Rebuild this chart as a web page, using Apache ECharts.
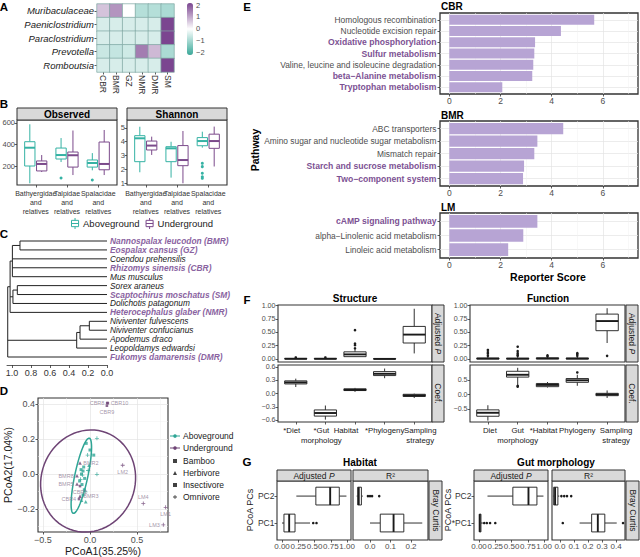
<!DOCTYPE html>
<html><head><meta charset="utf-8">
<script src="https://cdn.jsdelivr.net/npm/echarts@6.0.0/dist/echarts.min.js"></script>
<style>html,body{margin:0;padding:0;background:#fff;}#chart{width:640px;height:557px;}</style>
</head><body><div id="chart"></div>
<script>
// ================= DATA =================
// A: heatmap (z-scores)
const heatTaxa = ['Muribaculaceae', 'Paeniclostridium', 'Paraclostridium', 'Prevotella', 'Romboutsia'];
const heatHosts = ['CBR', 'BMR', 'GZ', 'NMR', 'DMR', 'SM'];
const heatZ = [
  [0.65, 1.15, 0.0, -0.75, -0.75, -0.85],
  [-0.41, -0.41, -0.41, -0.41, -0.41, 2.04],
  [-0.41, -0.41, -0.41, -0.41, -0.41, 2.04],
  [-0.55, -0.6, -0.5, 1.4, 0.75, -0.85],
  [-0.41, -0.41, -0.41, -0.41, -0.41, 2.04]
];
const colorbarTicks = [2, 1, 0, -1, -2];

// B: alpha diversity boxplots [min, q1, median, q3, max]
const bGroups = ['Bathyergidae\nand\nrelatives', 'Talpidae\nand\nrelatives', 'Spalacidae\nand\nrelatives'];
const observedAbove = [[39, 200, 370, 426, 588], [237, 265, 302, 367, 460], [160, 190, 228, 256, 320]];
const observedUnder = [[144, 154, 219, 247, 302], [116, 190, 300, 330, 530], [116, 165, 219, 423, 535]];
const observedAboveOut = [[2, 88], [3, 70]];
const shannonAbove = [[1.78, 2.55, 4.25, 4.44, 5.09], [1.39, 2.55, 3.52, 3.64, 4.0], [3.57, 3.71, 4.05, 4.3, 4.73]];
const shannonUnder = [[3.04, 3.4, 3.72, 4.05, 4.37], [0.98, 2.26, 2.67, 3.72, 4.78], [2.2, 3.52, 4.05, 4.55, 5.1]];
const shannonAboveOut = [[3, 2.43], [3, 2.19], [3, 1.71], [3, 1.46], [3, 1.34]];
const observedTicks = [200, 400, 600];
const shannonTicks = [1, 2, 3, 4, 5];

// C: dendrogram
const treeLeaves = ['Nannospalax leucodon (BMR)', 'Eospalax cansus (GZ)', 'Coendou prehensilis', 'Rhizomys sinensis (CBR)',
  'Mus musculus', 'Sorex araneus', 'Scaptochirus moschatus (SM)', 'Dolichotis patagonum', 'Heterocephalus glaber (NMR)',
  'Niviventer fulvescens', 'Niviventer confucianus', 'Apodemus draco', 'Leopoldamys edwardsi', 'Fukomys damarensis (DMR)'];
const treeFocal = [true, true, false, true, false, false, true, false, true, false, false, false, false, true];
const treeMerges = {h: 1.045, c: [
  {h: 1.02, c: [
    {h: 0.996, c: [{h: 0.916, c: [0, 1]}, 2, 3, 4]},
    {h: 0.99, c: [{h: 0.944, c: [5, 6]}, 7]},
    8]},
  {h: 0.319, c: [{h: 0.284, c: [{h: 0.186, c: [9, 10]}, 11]}, 12]},
  13]};
const treeTicks = [0, 0.2, 0.4, 0.6, 0.8, 1.0];

// D: PCoA
const underName = ['CBR8', 'CBR10', 'CBR9', 'LM2', 'LM4', 'LM1', 'LM3', 'BMR2', 'BMR8', 'BMR5', 'CBR5', 'BMR3', 'CBR4'];
const underX = [0.183, 0.19, 0.18, 0.348, 0.567, 0.805, 0.78, -0.106, -0.138, -0.138, -0.106, -0.106, -0.117];
const underY = [0.405, 0.405, 0.39, 0.05, -0.168, -0.19, -0.29, 0.063, -0.01, -0.057, -0.069, -0.126, -0.143];
const underDiet = ['Bamboo', 'Bamboo', 'Bamboo', 'Omnivore', 'Omnivore', 'Omnivore', 'Omnivore', 'Herbivore', 'Herbivore', 'Herbivore', 'Bamboo', 'Herbivore', 'Bamboo'];
const aboveX = [0.074, -0.04, 0.0, -0.025, 0.04, -0.01, 0.074, -0.067, -0.074, -0.081, -0.057, -0.09, -0.1, -0.085, -0.074, -0.09, -0.045, -0.06, -0.02, -0.095, -0.11, -0.05];
const aboveY = [0.204, 0.175, 0.137, 0.108, 0.108, 0.051, -0.002, 0.04, 0.017, -0.006, -0.025, 0.0, -0.03, -0.06, -0.12, -0.149, -0.158, -0.09, 0.02, 0.025, -0.04, -0.1];
const aboveDiet = ['Omnivore', 'Insectivore', 'Insectivore', 'Omnivore', 'Insectivore', 'Herbivore', 'Omnivore', 'Insectivore', 'Insectivore', 'Omnivore', 'Insectivore', 'Insectivore', 'Omnivore', 'Insectivore', 'Insectivore', 'Herbivore', 'Herbivore', 'Insectivore', 'Omnivore', 'Insectivore', 'Insectivore', 'Omnivore'];
const dietLevels = ['Bamboo', 'Herbivore', 'Insectivore', 'Omnivore'];
// ellipses: [centerX, centerY, axis1X, axis1Y, axis2X, axis2Y]
const ellipseAbove = [-0.092, -0.01, 0.085, 0.2145, 0.068, -0.008];
const ellipseUnder = [-0.02, -0.04, 0.505, 0.03, -0.02, 0.29];

// E: reporter scores
const cbrPathways = ['Homologous recombination', 'Nucleotide excision repair', 'Oxidative phosphorylation', 'Sulfur metabolism', 'Valine, leucine and isoleucine degradation', 'beta\u2212Alanine metabolism', 'Tryptophan metabolism'];
const cbrScores = [5.66, 4.36, 3.35, 3.32, 3.28, 3.24, 2.07];
const cbrHighlight = [0, 0, 1, 1, 0, 1, 1];
const bmrPathways = ['ABC transporters', 'Amino sugar and nucleotide sugar metabolism', 'Mismatch repair', 'Starch and sucrose metabolism', 'Two\u2212component system'];
const bmrScores = [4.45, 3.44, 3.32, 2.92, 2.88];
const bmrHighlight = [0, 0, 0, 1, 1];
const lmPathways = ['cAMP signaling pathway', 'alpha\u2212Linolenic acid metabolism', 'Linoleic acid metabolism'];
const lmScores = [3.44, 2.89, 2.3];
const lmHighlight = [1, 0, 0];
const reporterTicks = [0, 2, 4, 6];

// F: factor boxplots [min, q1, median, q3, max]
const structFactors = ['*Diet', '*Gut\nmorphology', 'Habitat', '*Phylogeny', 'Sampling\nstrategy'];
const funcFactors = ['Diet', 'Gut\nmorphology', '*Habitat', 'Phylogeny', 'Sampling\nstrategy'];
const structAdjP = [[0, 0.002, 0.005, 0.012, 0.02], [0, 0.002, 0.005, 0.012, 0.02], [0.04, 0.045, 0.087, 0.135, 0.18], [0, 0.001, 0.003, 0.008, 0.012], [0.105, 0.3, 0.457, 0.61, 0.94]];
const structAdjPOut = [[1, 0.03], [2, 0.03], [3, 0.2], [3, 0.26], [3, 0.29], [3, 0.54]];
const structCoef = [[0.15, 0.22, 0.255, 0.29, 0.34], [-0.59, -0.51, -0.44, -0.37, -0.27], [0.04, 0.07, 0.085, 0.11, 0.13], [0.35, 0.41, 0.45, 0.5, 0.57], [-0.1, -0.065, -0.04, -0.015, 0.0]];
const structCoefOut = [];
const funcAdjP = [[0, 0.004, 0.008, 0.018, 0.04], [0, 0.003, 0.007, 0.015, 0.035], [0, 0.005, 0.01, 0.022, 0.04], [0, 0.004, 0.008, 0.018, 0.04], [0.3, 0.53, 0.71, 0.84, 0.95]];
const funcAdjPOut = [[1, 0.06], [1, 0.1], [1, 0.13], [1, 0.17], [2, 0.06], [2, 0.08], [2, 0.11], [2, 0.15], [2, 0.23], [3, 0.05], [3, 0.07], [4, 0.06], [4, 0.09], [4, 0.11], [5, 0.06]];
const funcCoef = [[-0.9, -0.75, -0.63, -0.53, -0.37], [0.33, 0.6, 0.68, 0.8, 0.92], [0.24, 0.27, 0.33, 0.38, 0.43], [0.3, 0.42, 0.49, 0.55, 0.68], [-0.12, -0.04, 0, 0.04, 0.14]];
const funcCoefOut = [[2, 0.27], [2, 0.3], [4, 0.76]];
const adjPTicks = [0, 0.25, 0.5, 0.75, 1.0];
const structCoefTicks = [-0.6, -0.3, 0, 0.3, 0.6];
const funcCoefTicks = [-0.5, 0, 0.5];

// G: PC boxplots, rows: PC1, PC2
const habitatPCs = ['PC1', 'PC2'];
const gutPCs = ['*PC1', 'PC2'];
const habitatAdjP = [[0.0, 0.03, 0.11, 0.2, 0.43], [0.22, 0.52, 0.74, 0.88, 0.99]];
const habitatAdjPOut = [[1, 0.48], [1, 0.53]];
const habitatR2 = [[0.0, 0.05, 0.115, 0.165, 0.255], [-0.065, -0.06, -0.055, -0.042, -0.035]];
const habitatR2Out = [[2, -0.01], [2, 0.0], [2, 0.01], [2, 0.045]];
const gutAdjP = [[0.0, 0.005, 0.012, 0.03, 0.06], [0.13, 0.52, 0.76, 0.89, 0.99]];
const gutAdjPOut = [[1, 0.08], [1, 0.12], [1, 0.17], [1, 0.25]];
const gutR2 = [[0.14, 0.226, 0.27, 0.32, 0.405], [-0.05, -0.045, -0.035, -0.015, -0.005]];
const gutR2Out = [[1, 0.02], [1, 0.45], [2, 0.01], [2, 0.03], [2, 0.05], [2, 0.08]];
const habitatR2Ticks = [0, 0.1, 0.2];
const gutR2Ticks = [0, 0.1, 0.2, 0.3, 0.4];

// ================= STYLE / LAYOUT =================
const FONT = "'Liberation Sans', Arial, Helvetica, sans-serif";
const B_TEAL = '#35b2a4', B_PURP = '#7b4a8b';
const D_TEAL = '#2ea595', D_PURP = '#6e4475';
const HL_PURP = '#7c5193', TREE_PURP = '#8a63a1';
const BAR_FILL = '#b7a4d4';
const GRID_MAJOR = '#e4e4e4', GRID_MINOR = '#f0f0f0';
const STRIP_FILL = '#d9d9d9';
// horizontal nudges (px) of the F x-axis labels, as placed in the reference
const structLabelShift = [-4, -4, -9, 0, 6];
const funcLabelShift = [2, 0, -4, 0, 9];

const grids = [], xAxes = [], yAxes = [], series = [], graphics = [];

function fmtNum(v, d) {
  const s = Math.abs(v).toFixed(d);
  return (v < -1e-9 ? '\u2212' : '') + s;
}
function addGrid(left, top, width, height, border, bw) {
  grids.push({left: left, top: top, width: width, height: height, containLabel: false, outerBoundsMode: 'none',
    show: !!border, backgroundColor: 'rgba(0,0,0,0)', borderColor: '#333', borderWidth: border ? (bw || 1) : 0});
  return grids.length - 1;
}
function addAxis(list, o) {
  const lab = {show: o.label !== false, formatter: o.fmt, margin: o.margin == null ? 3 : o.margin,
    fontSize: o.fs || 7.5, color: o.color || '#4d4d4d', fontFamily: FONT, rotate: o.rotate || 0,
    fontStyle: o.italic ? 'italic' : 'normal', hideOverlap: false, interval: 0,
    showMinLabel: true, showMaxLabel: true};
  if (o.at) lab.customValues = o.at;
  if (o.lh) lab.lineHeight = o.lh;
  if (o.rich) lab.rich = o.rich;
  if (o.align) lab.align = o.align;
  if (o.valign) lab.verticalAlign = o.valign;
  const ax = {
    type: o.type || 'value', gridIndex: o.grid,
    inverse: !!o.inverse, offset: o.offset || 0,
    axisLine: {show: !!o.line, onZero: false, lineStyle: {color: '#333', width: 0.8}},
    axisTick: {show: o.tick !== false, length: o.tickLen || 2.5, alignWithLabel: true, interval: 0,
      lineStyle: {color: '#333', width: 0.8}},
    axisLabel: lab,
    splitLine: {show: !!o.split, lineStyle: {color: o.splitColor || GRID_MAJOR, width: o.splitWidth || 0.7}}
  };
  if (o.at) ax.axisTick.customValues = o.at;
  if (o.min != null) ax.min = o.min;
  if (o.max != null) ax.max = o.max;
  if (o.data) ax.data = o.data;
  if (o.position) ax.position = o.position;
  if (o.boundaryGap != null) ax.boundaryGap = o.boundaryGap;
  if (o.name) { ax.name = o.name; ax.nameLocation = 'middle'; ax.nameGap = o.nameGap; ax.nameTextStyle = o.nameStyle; }
  list.push(ax);
  return list.length - 1;
}
// extra (borderless) grid on top of a panel, carrying some of the x labels so crowded labels are all kept
function overlayXLabels(left, top, width, height, min, max, at, fmt, style) {
  const gi = addGrid(left, top, width, height);
  addAxis(xAxes, Object.assign({grid: gi, min: min, max: max, at: at, fmt: fmt}, style));
  addAxis(yAxes, {grid: gi, min: 0, max: 1, label: false, tick: false});
}
function boxSeries(xi, yi, rows, o) {
  series.push({
    type: 'custom', name: o.name, coordinateSystem: 'cartesian2d', xAxisIndex: xi, yAxisIndex: yi, silent: true, z: 3,
    data: rows,
    renderItem: function (params, api) {
      const c = api.value(0);
      const v = [api.value(1), api.value(2), api.value(3), api.value(4), api.value(5)];
      const hor = !!o.horizontal;
      const unit = hor ? Math.abs(api.size([0, 1])[1]) : Math.abs(api.size([1, 0])[0]);
      const w = unit * o.width, off = unit * (o.dodge || 0);
      const p = v.map(function (val) { return hor ? api.coord([val, c])[0] : api.coord([c, val])[1]; });
      const m = hor ? api.coord([v[2], c])[1] + off : api.coord([c, v[2]])[0] + off;
      const lw = o.lw || 0.9, stroke = o.color;
      function line(x1, y1, x2, y2, width) {
        return {type: 'line', shape: {x1: x1, y1: y1, x2: x2, y2: y2}, style: {stroke: stroke, lineWidth: width || lw}};
      }
      const ch = [];
      if (hor) {
        ch.push(line(p[0], m, p[1], m)); ch.push(line(p[3], m, p[4], m));
        ch.push({type: 'rect', shape: {x: Math.min(p[1], p[3]), y: m - w / 2, width: Math.abs(p[3] - p[1]), height: w},
          style: {fill: '#fff', stroke: stroke, lineWidth: lw}});
        ch.push(line(p[2], m - w / 2, p[2], m + w / 2, o.mlw || 1.8));
      } else {
        ch.push(line(m, p[0], m, p[1])); ch.push(line(m, p[3], m, p[4]));
        ch.push({type: 'rect', shape: {x: m - w / 2, y: Math.min(p[1], p[3]), width: w, height: Math.abs(p[3] - p[1])},
          style: {fill: '#fff', stroke: stroke, lineWidth: lw}});
        ch.push(line(m - w / 2, p[2], m + w / 2, p[2], o.mlw || 1.8));
      }
      return {type: 'group', children: ch};
    }
  });
}
function pointSeries(xi, yi, pts, o) {
  series.push({
    type: 'custom', coordinateSystem: 'cartesian2d', xAxisIndex: xi, yAxisIndex: yi, silent: true, z: 4, data: pts,
    renderItem: function (params, api) {
      const c = api.value(0), val = api.value(1);
      let pt;
      if (o.horizontal) { pt = api.coord([val, c]); }
      else { pt = api.coord([c, val]); pt[0] += Math.abs(api.size([1, 0])[0]) * (o.dodge || 0); }
      return {type: 'circle', shape: {cx: pt[0], cy: pt[1], r: o.r || 1.3}, style: {fill: o.color}};
    }
  });
}
function rows(summaries) { return summaries.map(function (s, i) { return [i + 1].concat(s); }); }
function txt(x, y, text, style, rot) {
  const el = {type: 'text', x: x, y: y, silent: true, z: 50,
    style: Object.assign({text: text, fontFamily: FONT, fill: '#000', align: 'center', verticalAlign: 'middle', fontSize: 10}, style)};
  if (rot) el.rotation = rot;
  graphics.push(el);
}
function box(x, y, w, h) {
  graphics.push({type: 'rect', silent: true, z: 40, shape: {x: x, y: y, width: w, height: h},
    style: {fill: STRIP_FILL, stroke: '#333', lineWidth: 1}});
}
const pRich = {a: {fontFamily: FONT, fontSize: 8.5, fill: '#1a1a1a'}, i: {fontFamily: FONT, fontSize: 8.5, fontStyle: 'italic', fill: '#1a1a1a'}};

// ---------- Panel A ----------
const gA = addGrid(97, 4, 77, 68);
const xA = addAxis(xAxes, {grid: gA, type: 'category', data: heatHosts, boundaryGap: true, rotate: -90, align: 'left', valign: 'middle',
  fs: 8.5, color: '#333', margin: 3});
const yA = addAxis(yAxes, {grid: gA, type: 'category', data: heatTaxa, boundaryGap: true, inverse: true, italic: true, align: 'right',
  fs: 9.5, color: '#1a1a1a', margin: 3});
const heatData = [];
heatZ.forEach(function (row, yi) { row.forEach(function (v, xi) { heatData.push([xi, yi, v]); }); });
series.push({type: 'heatmap', xAxisIndex: xA, yAxisIndex: yA, data: heatData, silent: true,
  itemStyle: {borderColor: '#7fa8a3', borderWidth: 0.7}, emphasis: {disabled: true}});
const heatSeriesIndex = series.length - 1;
const gAc = addGrid(187, 5, 6, 47);
addAxis(xAxes, {grid: gAc, min: 0, max: 1, label: false, tick: false});
addAxis(yAxes, {grid: gAc, position: 'right', min: -2, max: 2, at: colorbarTicks, fmt: function (v) { return fmtNum(v, 0); }, fs: 7.5, margin: 3, tick: false});

// ---------- Panel B ----------
const bLabelStyle = {lh: 9, fs: 7, color: '#333', margin: 4};
const bFmt = function (v) { return bGroups[v - 1]; };
const gBo = addGrid(17, 120, 100, 65, true, 1.1);
const xBo = addAxis(xAxes, Object.assign({grid: gBo, min: 0.4, max: 3.6, at: [1, 3], fmt: bFmt}, bLabelStyle));
const yBo = addAxis(yAxes, {grid: gBo, min: 23.3, max: 627.9, at: observedTicks, fs: 7.5, margin: 2});
overlayXLabels(17, 120, 100, 65, 0.4, 3.6, [2], bFmt, bLabelStyle);
const gBs = addGrid(127, 120, 100, 65, true, 1.1);
const xBs = addAxis(xAxes, Object.assign({grid: gBs, min: 0.4, max: 3.6, at: [1, 3], fmt: bFmt}, bLabelStyle));
const yBs = addAxis(yAxes, {grid: gBs, min: 0.855, max: 5.58, at: shannonTicks, fs: 7.5, margin: 2});
overlayXLabels(127, 120, 100, 65, 0.4, 3.6, [2], bFmt, bLabelStyle);
boxSeries(xBo, yBo, rows(observedAbove), {name: 'Aboveground', color: B_TEAL, width: 0.33, dodge: -0.19, lw: 1, mlw: 2});
boxSeries(xBo, yBo, rows(observedUnder), {name: 'Underground', color: B_PURP, width: 0.33, dodge: 0.19, lw: 1, mlw: 2});
pointSeries(xBo, yBo, observedAboveOut, {color: B_TEAL, dodge: -0.19, r: 1.5});
boxSeries(xBs, yBs, rows(shannonAbove), {name: 'Aboveground', color: B_TEAL, width: 0.33, dodge: -0.19, lw: 1, mlw: 2});
boxSeries(xBs, yBs, rows(shannonUnder), {name: 'Underground', color: B_PURP, width: 0.33, dodge: 0.19, lw: 1, mlw: 2});
pointSeries(xBs, yBs, shannonAboveOut, {color: B_TEAL, dodge: -0.19, r: 1.5});
box(17, 108, 100, 12); txt(67, 114.5, 'Observed', {fontWeight: 'bold', fontSize: 10});
box(127, 108, 100, 12); txt(177, 114.5, 'Shannon', {fontWeight: 'bold', fontSize: 10});

// ---------- Panel C ----------
const gC = addGrid(7, 241, 100, 116);
const xC = addAxis(xAxes, {grid: gC, min: 0, max: 1.0526, inverse: true, at: treeTicks, fmt: function (v) { return v.toFixed(1); },
  fs: 9, color: '#333', margin: 3, line: true, offset: 8, tickLen: 3});
const yC = addAxis(yAxes, {grid: gC, min: 0, max: 13, inverse: true, label: false, tick: false});
addAxis(yAxes, {grid: gC, type: 'category', data: treeLeaves, position: 'right', inverse: true, boundaryGap: false, tick: false, margin: 3,
  fmt: function (v, i) { return (treeFocal[i] ? '{f|' : '{n|') + v + '}'; },
  rich: {f: {color: TREE_PURP, fontWeight: 'bold', fontStyle: 'italic', fontSize: 8.4, fontFamily: FONT},
         n: {color: '#1a1a1a', fontStyle: 'italic', fontSize: 8.3, fontFamily: FONT}}});
const treeSegs = [];
(function layout(node) {
  if (typeof node === 'number') return {y: node, h: 0};
  const kids = node.c.map(layout);
  const ys = kids.map(function (k) { return k.y; });
  const lo = Math.min.apply(null, ys), hi = Math.max.apply(null, ys);
  kids.forEach(function (k) { treeSegs.push([k.h, k.y, node.h, k.y]); });
  treeSegs.push([node.h, lo, node.h, hi]);
  return {y: (lo + hi) / 2, h: node.h};
})(treeMerges);
series.push({type: 'custom', coordinateSystem: 'cartesian2d', xAxisIndex: xC, yAxisIndex: yC, silent: true, data: treeSegs,
  renderItem: function (params, api) {
    const a = api.coord([api.value(0), api.value(1)]), b = api.coord([api.value(2), api.value(3)]);
    return {type: 'line', shape: {x1: a[0], y1: a[1], x2: b[0], y2: b[1]}, style: {stroke: '#222', lineWidth: 1}};
  }});

// ---------- Panel D ----------
const gD = addGrid(38, 398, 130, 134, true, 1.1);
const dFmt = function (v) { return fmtNum(v, 1); };
const xD = addAxis(xAxes, {grid: gD, min: -0.553, max: 0.83, at: [-0.5, 0, 0.5], fmt: dFmt, fs: 9, margin: 3, split: true,
  name: 'PCoA1(35.25%)', nameGap: 13, nameStyle: {fontSize: 10.5, color: '#1a1a1a', fontFamily: FONT}});
addAxis(xAxes, {grid: gD, position: 'top', min: -0.553, max: 0.83, at: [-0.25, 0.25, 0.75], label: false, tick: false, split: true, splitColor: GRID_MINOR, splitWidth: 0.5});
const yD = addAxis(yAxes, {grid: gD, min: -0.331, max: 0.434, at: [-0.2, 0, 0.2, 0.4], fmt: dFmt, fs: 9, margin: 3, split: true,
  name: 'PCoA2(17.04%)', nameGap: 21, nameStyle: {fontSize: 10.5, color: '#1a1a1a', fontFamily: FONT}});
addAxis(yAxes, {grid: gD, position: 'right', min: -0.331, max: 0.434, at: [-0.3, -0.1, 0.1, 0.3], label: false, tick: false, split: true, splitColor: GRID_MINOR, splitWidth: 0.5});
function ellipseSeries(name, e, color) {
  series.push({type: 'custom', name: name, coordinateSystem: 'cartesian2d', xAxisIndex: xD, yAxisIndex: yD, silent: true, z: 2, data: [e],
    renderItem: function (params, api) {
      const v = []; for (let k = 0; k < 6; k++) v.push(api.value(k));
      const pts = [];
      for (let i = 0; i < 72; i++) {
        const t = i / 72 * Math.PI * 2;
        pts.push(api.coord([v[0] + v[2] * Math.cos(t) + v[4] * Math.sin(t), v[1] + v[3] * Math.cos(t) + v[5] * Math.sin(t)]));
      }
      return {type: 'polygon', shape: {points: pts}, style: {fill: 'none', stroke: color, lineWidth: 1.5}};
    }});
}
ellipseSeries('Underground', ellipseUnder, D_PURP);
ellipseSeries('Aboveground', ellipseAbove, D_TEAL);
const dietSymbol = {Bamboo: ['rect', 2.6], Herbivore: ['triangle', 3.6], Insectivore: ['rect', 3], Omnivore: ['path://M2,0H3V2H5V3H3V5H2V3H0V2H2Z', 4]};
const labelPlace = {CBR8: 'left', CBR10: 'right', CBR9: 'bottom', LM2: 'bottom', LM4: 'top', LM1: 'bottom', LM3: 'left',
  BMR2: 'right', BMR8: 'left', BMR5: 'left', CBR5: 'bottom', BMR3: 'right', CBR4: 'left'};
dietLevels.forEach(function (diet) {
  const data = [];
  aboveX.forEach(function (x, i) { if (aboveDiet[i] === diet) data.push({value: [x, aboveY[i]], itemStyle: {color: D_TEAL}}); });
  underX.forEach(function (x, i) {
    if (underDiet[i] === diet) data.push({value: [x, underY[i]], itemStyle: {color: D_PURP},
      label: {show: true, formatter: underName[i], position: labelPlace[underName[i]], distance: 1.5, fontSize: 5.5, color: '#8d7b93', fontFamily: FONT}});
  });
  series.push({type: 'scatter', name: diet, xAxisIndex: xD, yAxisIndex: yD, silent: true, z: 5, data: data,
    symbol: dietSymbol[diet][0], symbolSize: dietSymbol[diet][1], itemStyle: {color: '#000'}});
});

// ---------- Panel E ----------
function ePanel(top, height, names, scores, highlight) {
  const n = names.length;
  const gi = addGrid(440, top, 198, height, true, 1.3);
  const xi = addAxis(xAxes, {grid: gi, min: -0.363, max: 7.37, at: reporterTicks, fs: 8.5, margin: 2.5, split: true});
  addAxis(xAxes, {grid: gi, position: 'top', min: -0.363, max: 7.37, at: [1, 3, 5, 7], label: false, tick: false, split: true, splitColor: GRID_MINOR, splitWidth: 0.5});
  const yi = addAxis(yAxes, {grid: gi, min: 0.4, max: n + 0.6, inverse: true, at: names.map(function (_, i) { return i + 1; }),
    fmt: function (v) { return (highlight[v - 1] ? '{b|' : '{n|') + names[v - 1] + '}'; }, margin: 3.5, split: true,
    rich: {b: {color: HL_PURP, fontWeight: 'bold', fontSize: 8.6, fontFamily: FONT}, n: {color: '#4d4d4d', fontSize: 8.4, fontFamily: FONT}}});
  series.push({type: 'custom', coordinateSystem: 'cartesian2d', xAxisIndex: xi, yAxisIndex: yi, silent: true, z: 3,
    data: scores.map(function (s, i) { return [s, i + 1]; }),
    renderItem: function (params, api) {
      const p0 = api.coord([0, api.value(1)]), p1 = api.coord([api.value(0), api.value(1)]);
      const h = Math.abs(api.size([0, 0.9])[1]);
      return {type: 'rect', shape: {x: p0[0], y: p0[1] - h / 2, width: p1[0] - p0[0], height: h}, style: {fill: BAR_FILL}};
    }});
}
ePanel(13, 81, cbrPathways, cbrScores, cbrHighlight);
ePanel(121, 65, bmrPathways, bmrScores, bmrHighlight);
ePanel(213, 45, lmPathways, lmScores, lmHighlight);
txt(441, 6.5, 'CBR', {fontWeight: 'bold', align: 'left', fontSize: 10});
txt(441, 115.5, 'BMR', {fontWeight: 'bold', align: 'left', fontSize: 10});
txt(441, 207, 'LM', {fontWeight: 'bold', align: 'left', fontSize: 10});
txt(255, 150, 'Pathway', {fontWeight: 'bold', fontSize: 10.5}, Math.PI / 2);
txt(548, 277, 'Reporter Score', {fontWeight: 'bold', fontSize: 10.5});

// ---------- Panel F ----------
function fLabelStyle(shifts) {
  const rich = {};
  shifts.forEach(function (s, i) {
    rich['c' + i] = {fontSize: 7.8, color: '#1a1a1a', fontFamily: FONT, lineHeight: 10.5,
      padding: s >= 0 ? [0, 0, 0, 2 * s] : [0, -2 * s, 0, 0]};
  });
  return {fs: 7.8, color: '#1a1a1a', lh: 10.5, margin: 3, rich: rich};
}
function fGrid(left, width, top, yMin, yMax, yTicks, yDigits, xLabels, shifts) {
  const gi = addGrid(left, top, width, 57, true, 1.1);
  const xFmt = function (v) { return '{c' + (v - 1) + '|' + xLabels[v - 1] + '}'; };
  const ls = xLabels ? fLabelStyle(shifts) : null;
  const xi = addAxis(xAxes, xLabels ?
    Object.assign({grid: gi, min: 0.4, max: 5.6, at: [1, 3, 5], fmt: xFmt}, ls) :
    {grid: gi, min: 0.4, max: 5.6, label: false, tick: false});
  const yi = addAxis(yAxes, {grid: gi, min: yMin, max: yMax, at: yTicks, fmt: function (v) { return fmtNum(v, yDigits); }, fs: 7.1, lh: 7, margin: 2.5});
  if (xLabels) overlayXLabels(left, top, width, 57, 0.4, 5.6, [2, 4], xFmt, ls);
  return [xi, yi];
}
const fBox = {color: '#1a1a1a', width: 0.75, lw: 0.9, mlw: 1.9};
let ax = fGrid(278, 154, 305, -0.055, 1.01, adjPTicks, 2, null);
boxSeries(ax[0], ax[1], rows(structAdjP), fBox); pointSeries(ax[0], ax[1], structAdjPOut, {color: '#1a1a1a'});
ax = fGrid(278, 154, 365, -0.644, 0.65, structCoefTicks, 1, structFactors, structLabelShift);
boxSeries(ax[0], ax[1], rows(structCoef), fBox); pointSeries(ax[0], ax[1], structCoefOut, {color: '#1a1a1a'});
ax = fGrid(470, 155, 305, -0.055, 1.01, adjPTicks, 2, null);
boxSeries(ax[0], ax[1], rows(funcAdjP), fBox); pointSeries(ax[0], ax[1], funcAdjPOut, {color: '#1a1a1a'});
ax = fGrid(470, 155, 365, -0.948, 1.017, funcCoefTicks, 1, funcFactors, funcLabelShift);
boxSeries(ax[0], ax[1], rows(funcCoef), fBox); pointSeries(ax[0], ax[1], funcCoefOut, {color: '#1a1a1a'});
txt(355, 298, 'Structure', {fontWeight: 'bold', fontSize: 10});
txt(548, 298, 'Function', {fontWeight: 'bold', fontSize: 10});
[[432, 305, 'adj'], [432, 365, 'coef'], [626, 305, 'adj'], [626, 365, 'coef']].forEach(function (s) {
  box(s[0], s[1], 12, 57);
  if (s[2] === 'adj') txt(s[0] + 6, s[1] + 28.5, '{a|Adjusted }{i|P}', {rich: pRich, fontSize: 8.5}, -Math.PI / 2);
  else txt(s[0] + 6, s[1] + 28.5, 'Coef.', {fontSize: 8.5, fill: '#1a1a1a'}, -Math.PI / 2);
});

// ---------- Panel G ----------
function gGrid(left, width, xMin, xMax, xTicks, xDigits, yLabels) {
  const gi = addGrid(left, 481, width, 59, true, 1.1);
  const xi = addAxis(xAxes, {grid: gi, min: xMin, max: xMax, at: xTicks, fmt: function (v) { return fmtNum(v, xDigits); }, fs: 8, margin: 2.5});
  const yi = addAxis(yAxes, yLabels ?
    {grid: gi, min: 0.37, max: 2.56, at: [1, 2], fmt: function (v) { return yLabels[v - 1]; }, fs: 8.5, color: '#333', margin: 2.5} :
    {grid: gi, min: 0.37, max: 2.56, label: false, tick: false});
  return [xi, yi];
}
const gBox = {color: '#1a1a1a', width: 0.66, lw: 0.9, mlw: 1.9, horizontal: true};
const gPt = {color: '#1a1a1a', horizontal: true};
ax = gGrid(277, 74, -0.077, 1.06, adjPTicks, 2, habitatPCs);
boxSeries(ax[0], ax[1], rows(habitatAdjP), gBox); pointSeries(ax[0], ax[1], habitatAdjPOut, gPt);
ax = gGrid(353, 75, -0.083, 0.283, habitatR2Ticks, 1, null);
boxSeries(ax[0], ax[1], rows(habitatR2), gBox); pointSeries(ax[0], ax[1], habitatR2Out, gPt);
ax = gGrid(474, 74, -0.077, 1.06, adjPTicks, 2, gutPCs);
boxSeries(ax[0], ax[1], rows(gutAdjP), gBox); pointSeries(ax[0], ax[1], gutAdjPOut, gPt);
ax = gGrid(552, 73, -0.057, 0.464, gutR2Ticks, 1, null);
boxSeries(ax[0], ax[1], rows(gutR2), gBox); pointSeries(ax[0], ax[1], gutR2Out, gPt);
txt(360, 462, 'Habitat', {fontWeight: 'bold', fontSize: 10});
txt(556, 462, 'Gut morphology', {fontWeight: 'bold', fontSize: 10});
[[277, 74, 'adj'], [353, 75, 'r2'], [474, 74, 'adj'], [552, 73, 'r2']].forEach(function (s) {
  box(s[0], 470, s[1], 11);
  if (s[2] === 'adj') txt(s[0] + s[1] / 2, 476, '{a|Adjusted }{i|P}', {rich: pRich, fontSize: 8.5});
  else txt(s[0] + s[1] / 2, 476, 'R\u00b2', {fontSize: 8.5, fill: '#1a1a1a'});
});
[429, 626].forEach(function (x) { box(x, 481, 13, 59); txt(x + 6.5, 510.5, 'Bray Curtis', {fontSize: 8.5, fill: '#1a1a1a'}, -Math.PI / 2); });
txt(250, 510, 'PCoA PCs', {fontSize: 9, fill: '#1a1a1a'}, Math.PI / 2);
txt(448, 510, 'PCoA PCs', {fontSize: 9, fill: '#1a1a1a'}, Math.PI / 2);

// ---------- panel letters ----------
[['A', 4, 7], ['B', 4, 104], ['C', 4, 234], ['D', 4, 391], ['E', 247, 7], ['F', 247, 300], ['G', 247, 462]].forEach(function (l) {
  txt(l[1], l[2], l[0], {fontWeight: 'bold', fontSize: 11.5});
});

// ---------- legends ----------
const BOXICON = 'path://M5,0V3M5,11V14M0.5,3H9.5V11H0.5ZM0.5,7H9.5';
const LINEDOT = 'path://M0,3.3H14V4.7H0ZM7,1.5A2.5,2.5,0,1,1,6.99,1.5Z';
const legendText = {fontFamily: FONT, fontSize: 9.5, color: '#1a1a1a'};
const legends = [
  {data: [{name: 'Aboveground', icon: BOXICON, itemStyle: {color: '#fff', borderColor: B_TEAL, borderWidth: 1}},
          {name: 'Underground', icon: BOXICON, itemStyle: {color: '#fff', borderColor: B_PURP, borderWidth: 1}}],
   left: 71, top: 217.5, itemWidth: 10, itemHeight: 11, itemGap: 6, padding: 0, selectedMode: false,
   textStyle: Object.assign({}, legendText, {padding: [0, 0, 0, -2]})},
  {data: [{name: 'Aboveground', icon: LINEDOT, itemStyle: {color: D_TEAL, borderWidth: 0}},
          {name: 'Underground', icon: LINEDOT, itemStyle: {color: D_PURP, borderWidth: 0}}],
   orient: 'vertical', left: 170, top: 431, itemWidth: 10, itemHeight: 5, itemGap: 2, padding: 0, selectedMode: false,
   textStyle: Object.assign({}, legendText, {fontSize: 8.5, lineHeight: 10, padding: [0, 0, 0, -2]})},
  {data: dietLevels.map(function (d) { return {name: d, icon: dietSymbol[d][0], itemStyle: {color: '#111', borderWidth: 0}}; }),
   orient: 'vertical', left: 173, top: 456, itemWidth: 4, itemHeight: 4, itemGap: 2, padding: 0, selectedMode: false,
   textStyle: Object.assign({}, legendText, {fontSize: 8.5, lineHeight: 10, padding: [0, 0, 0, 1]})}
];

const option = {
  animation: false,
  backgroundColor: '#ffffff',
  textStyle: {fontFamily: FONT},
  grid: grids, xAxis: xAxes, yAxis: yAxes, series: series,
  visualMap: [{type: 'continuous', seriesIndex: heatSeriesIndex, min: -2, max: 2, calculable: false, orient: 'vertical',
    left: 187, top: 3, itemWidth: 6, itemHeight: 52, padding: 0, text: null, showLabel: false,
    inRange: {color: ['#3aa99a', '#ffffff', '#7b4590']}, textStyle: {fontSize: 0}}],
  legend: legends,
  graphic: graphics
};
const chart = echarts.init(document.getElementById('chart'), null, {renderer: 'svg'});
chart.setOption(option);
</script></body></html>
